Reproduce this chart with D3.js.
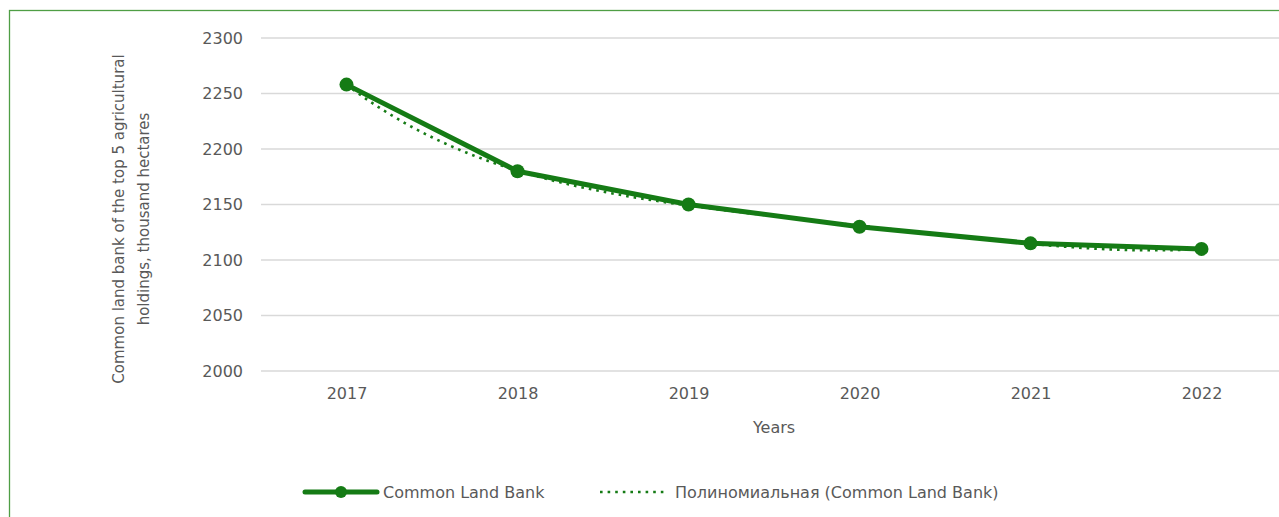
<!DOCTYPE html>
<html>
<head>
<meta charset="utf-8">
<script src="https://cdn.jsdelivr.net/npm/d3@7"></script>
<style>
  body { margin: 0; background: #fff; overflow: hidden; }
  svg text { font-family: "DejaVu Sans", sans-serif; fill: #595959; }
</style>
</head>
<body>
<script>
//////////////// Datas ////////////////////
var years = ["2017", "2018", "2019", "2020", "2021", "2022"];
var landBank = [2258, 2180, 2150, 2130, 2115, 2110];
var yTicks = [2000, 2050, 2100, 2150, 2200, 2250, 2300];
var seriesName = "Common Land Bank";
var trendName = "Полиномиальная (Common Land Bank)";
var yTitle = ["Common land bank of the top 5 agricultural", "holdings, thousand hectares"];
var xTitle = "Years";
var trendOrder = 4;

var W = 1279, H = 517;
var margin = {left: 261, top: 38, right: -8, bottom: 146};
var width = W - margin.left - margin.right;
var height = H - margin.top - margin.bottom;
var green = "#157b15";
var fs = "16px";

//////////////// SVG ////////////////////
var svg = d3.select("body").append("svg")
  .attr("width", W)
  .attr("height", H);

// chart border
svg.append("rect")
  .attr("x", 9.5).attr("y", 10.5)
  .attr("width", W + 20).attr("height", H + 20)
  .attr("fill", "none")
  .attr("stroke", "#4f9e45")
  .attr("stroke-width", 1.3);

var g = svg.append("g")
  .attr("transform", "translate(" + margin.left + "," + margin.top + ")");

////////////////// Scaling ////////////
var xScale = d3.scalePoint()
  .domain(years)
  .range([0, width])
  .padding(0.5);
var yScale = d3.scaleLinear()
  .domain([2000, 2300])
  .range([height, 0]);

//////////// Gitter + Achsen /////////////
g.selectAll("line.grid")
  .data(yTicks)
  .enter()
  .append("line")
  .attr("class", "grid")
  .attr("x1", 0).attr("x2", width)
  .attr("y1", function(d) {return yScale(d);})
  .attr("y2", function(d) {return yScale(d);})
  .style("stroke", "#d9d9d9")
  .style("stroke-width", 1.3);

var yAxis = d3.axisLeft(yScale).tickValues(yTicks).tickFormat(d3.format("d"))
  .tickSize(0).tickPadding(18);
g.append("g").attr("class", "y axis").call(yAxis)
  .call(function(a) {a.select(".domain").remove();})
  .selectAll("text").style("font-size", fs);

var xAxis = d3.axisBottom(xScale).tickSize(0).tickPadding(17);
g.append("g").attr("class", "x axis")
  .attr("transform", "translate(0," + height + ")")
  .call(xAxis)
  .call(function(a) {a.select(".domain").remove();})
  .selectAll("text").style("font-size", fs);

g.append("text")
  .attr("x", xScale("2019") + xScale.step() / 2)
  .attr("y", height + 62)
  .attr("text-anchor", "middle")
  .style("font-size", fs)
  .text(xTitle);

svg.selectAll("text.ytitle")
  .data(yTitle)
  .enter()
  .append("text")
  .attr("class", "ytitle")
  .attr("transform", function(d, i) {
    return "translate(" + (124 + i * 25) + ",219) rotate(-90)";
  })
  .attr("text-anchor", "middle")
  .style("font-size", "15px")
  .text(function(d) {return d;});

//////////////// Trend (Polynom) ///////////////
function polyFit(ys, order) {
  var n = order + 1;
  var A = [];
  for (var r = 0; r < n; r++) {
    A.push([]);
    for (var c = 0; c <= n; c++) A[r].push(0);
  }
  ys.forEach(function(y, i) {
    var x = i + 1;
    for (var r = 0; r < n; r++) {
      for (var c = 0; c < n; c++) A[r][c] += Math.pow(x, r + c);
      A[r][n] += y * Math.pow(x, r);
    }
  });
  // Gauss
  for (var k = 0; k < n; k++) {
    var p = k;
    for (var r = k + 1; r < n; r++) if (Math.abs(A[r][k]) > Math.abs(A[p][k])) p = r;
    var t = A[k]; A[k] = A[p]; A[p] = t;
    for (var r = k + 1; r < n; r++) {
      var f = A[r][k] / A[k][k];
      for (var c = k; c <= n; c++) A[r][c] -= f * A[k][c];
    }
  }
  var coef = new Array(n).fill(0);
  for (var k = n - 1; k >= 0; k--) {
    var s = A[k][n];
    for (var c = k + 1; c < n; c++) s -= A[k][c] * coef[c];
    coef[k] = s / A[k][k];
  }
  return function(x) {
    return coef.reduce(function(acc, a, j) {return acc + a * Math.pow(x, j);}, 0);
  };
}

var trendFn = polyFit(landBank, trendOrder);
var trendPts = d3.range(1, years.length + 0.001, 0.05).map(function(x) {
  return {x: x, y: trendFn(x)};
});
var trendX = d3.scaleLinear().domain([1, years.length])
  .range([xScale(years[0]), xScale(years[years.length - 1])]);

//////////////// Linie + Kreise ///////////////
var line = d3.line()
  .x(function(d, i) {return xScale(years[i]);})
  .y(function(d) {return yScale(d);});

g.append("path")
  .datum(landBank)
  .attr("d", line)
  .attr("fill", "none")
  .attr("stroke", green)
  .attr("stroke-width", 5)
  .style("stroke-linejoin", "round");

g.append("path")
  .datum(trendPts)
  .attr("d", d3.line()
    .x(function(d) {return trendX(d.x);})
    .y(function(d) {return yScale(d.y);})
    .curve(d3.curveBasis))
  .attr("fill", "none")
  .attr("stroke", green)
  .attr("stroke-width", 2.6)
  .attr("stroke-dasharray", "2.6,5")
  .attr("stroke-linecap", "butt");

g.selectAll("circle.pt")
  .data(landBank)
  .enter()
  .append("circle")
  .attr("class", "pt")
  .attr("cx", function(d, i) {return xScale(years[i]);})
  .attr("cy", function(d) {return yScale(d);})
  .attr("r", 7)
  .style("fill", green);

///////////////// Legende ////////////
var leg = svg.append("g").attr("transform", "translate(0,492)");
leg.append("line")
  .attr("x1", 305).attr("x2", 377)
  .attr("stroke", green).attr("stroke-width", 5)
  .attr("stroke-linecap", "round");
leg.append("circle").attr("cx", 341).attr("r", 6).style("fill", green);
leg.append("text").attr("x", 383).attr("y", 6)
  .style("font-size", fs).text(seriesName);

leg.append("line")
  .attr("x1", 600).attr("x2", 668)
  .attr("stroke", green).attr("stroke-width", 2.6)
  .attr("stroke-dasharray", "2.6,5");
leg.append("text").attr("x", 675).attr("y", 6)
  .style("font-size", fs).text(trendName);
</script>
</body>
</html>
